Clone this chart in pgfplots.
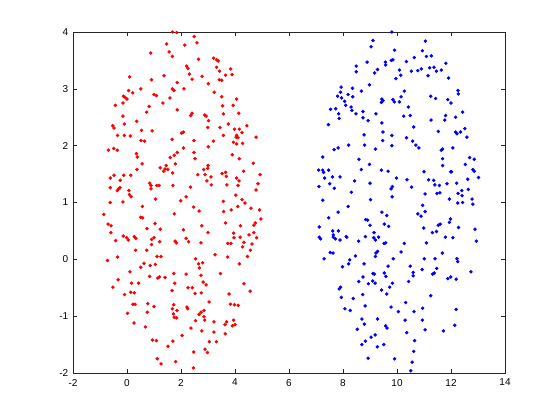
\documentclass[border=0pt]{standalone}
\usepackage{pgfplots}
\pgfplotsset{compat=1.18}
\usepackage{fontspec}
\setmainfont{Liberation Sans}
\definecolor{axgray}{rgb}{0.15,0.15,0.15}
\begin{document}
\begin{tikzpicture}
\begin{axis}[
  scale only axis, width=324pt, height=255.75pt,
  xmin=-2, xmax=14, ymin=-2, ymax=4,
  xtick={-2,0,...,14}, ytick={-2,-1,...,4},
  tick align=inside, xtick pos=both, ytick pos=both,
  major tick length=3.2pt,
  axis line style={axgray, line width=0.5pt},
  every tick/.style={axgray, line width=0.5pt},
  tick label style={font=\fontsize{7.5}{9}\selectfont, text=black},
  /pgf/number format/assume math mode=true,
  xticklabel style={yshift=-1pt},
  clip=false,
]
\addplot[only marks, mark=*, mark size=1.1pt, color=red] coordinates {
(1.68,4.00)(1.84,3.99)(1.47,3.79)(0.88,3.63)(1.56,3.65)(1.68,3.57)(0.10,3.21)(0.91,3.16)(1.37,3.23)(1.86,3.11)(0.51,3.00)(0.06,2.97)(0.21,2.93)(1.68,3.00)(1.74,2.97)(-0.13,2.87)(-0.07,2.85)(0.00,2.82)(1.00,2.90)(1.09,2.88)(1.59,2.84)(-0.43,2.71)(-0.15,2.75)(1.33,2.75)(0.82,2.69)(0.73,2.59)(1.86,2.63)(-0.15,2.52)(-0.53,2.35)(-0.48,2.31)(-0.10,2.38)(0.36,2.43)(0.54,2.27)(0.93,2.26)(-0.35,2.18)(-0.10,2.18)(0.12,2.17)(0.52,2.09)(0.65,2.08)(1.67,2.11)
(2.49,3.92)(2.14,3.77)(2.59,3.81)(2.65,3.52)(3.21,3.54)(3.32,3.51)(3.38,3.49)(2.21,3.40)(2.26,3.36)(3.32,3.38)(3.43,3.31)(3.84,3.35)(2.31,3.26)(2.78,3.22)(3.65,3.24)(3.89,3.25)(2.41,3.17)(3.42,3.16)(3.51,3.15)(3.01,3.09)(2.11,3.00)(3.23,2.94)(3.51,2.86)(4.06,2.82)(3.93,2.71)(3.54,2.70)(4.14,2.57)(2.41,2.57)(2.36,2.53)(2.88,2.54)(2.93,2.52)(3.02,2.44)(3.57,2.56)(3.75,2.38)(2.99,2.32)(3.44,2.32)(4.44,2.35)(3.98,2.29)(4.16,2.29)(2.02,2.22)(2.09,2.24)(4.26,2.23)(2.48,2.09)(3.57,2.18)(4.06,2.18)(4.11,2.14)(4.04,2.15)(4.78,2.15)(3.94,2.06)(3.20,2.08)(4.06,2.03)(4.28,2.04)
(-0.69,1.92)(-0.49,1.95)(-0.36,1.92)(0.35,1.86)(0.38,1.80)(1.86,1.88)(1.75,1.83)(1.60,1.79)(0.56,1.68)(1.79,1.68)(0.37,1.58)(1.23,1.61)(1.45,1.65)(1.36,1.55)(1.51,1.58)(1.41,1.59)(1.69,1.52)(-0.62,1.43)(-0.48,1.48)(-0.12,1.48)(0.14,1.48)(-0.25,1.39)(0.84,1.34)(0.89,1.30)(1.10,1.30)(1.19,1.30)(1.70,1.30)(-0.62,1.26)(-0.36,1.21)(-0.31,1.24)(-0.26,1.26)(0.07,1.21)(0.09,1.14)(0.15,1.10)(0.89,1.24)(-0.62,1.00)(-0.15,1.01)(1.06,1.06)(0.57,0.93)(-0.86,0.79)(0.51,0.74)(0.58,0.73)(1.75,0.80)(-0.70,0.62)(-0.59,0.59)(1.04,0.63)(-0.60,0.47)(0.74,0.54)(1.23,0.53)(-0.14,0.41)(-0.01,0.38)(0.05,0.34)(0.27,0.40)(0.33,0.37)(1.00,0.38)(0.91,0.35)(-0.42,0.33)(1.21,0.31)(0.91,0.26)(1.78,0.32)(1.83,0.29)(0.32,0.16)(0.73,0.16)(1.11,0.05)(1.26,0.05)(-0.72,-0.02)(-0.35,0.04)
(2.09,1.96)(3.01,1.98)(2.48,1.88)(2.52,1.77)(3.90,1.84)(4.16,1.77)(4.68,1.69)(3.00,1.65)(2.99,1.60)(2.84,1.58)(2.62,1.49)(2.89,1.49)(3.11,1.45)(3.52,1.51)(3.65,1.53)(3.68,1.46)(4.06,1.43)(4.15,1.38)(4.32,1.55)(4.93,1.49)(2.96,1.38)(3.12,1.31)(3.70,1.31)(4.11,1.30)(4.85,1.33)(4.78,1.22)(2.35,1.27)(2.19,1.10)(1.99,1.03)(3.57,1.02)(4.03,1.13)(4.26,1.05)(4.37,0.99)(4.10,0.93)(3.86,0.87)(3.58,0.84)(4.59,0.90)(4.91,0.87)(2.47,0.92)(2.67,0.85)(4.96,0.71)(3.65,0.64)(4.20,0.59)(4.75,0.64)(4.70,0.60)(2.77,0.59)(3.00,0.47)(2.09,0.52)(3.95,0.46)(3.96,0.38)(4.19,0.39)(4.52,0.43)(4.70,0.47)(4.80,0.38)(2.19,0.37)(2.28,0.31)(2.74,0.29)(3.73,0.28)(3.85,0.28)(4.33,0.30)(4.63,0.27)(4.28,0.22)(4.57,0.16)(3.26,0.08)(3.73,0.04)(4.46,0.05)(2.54,0.01)
(0.63,-0.07)(0.51,-0.14)(0.86,-0.11)(1.05,-0.09)(0.11,-0.22)(0.84,-0.30)(1.14,-0.33)(1.20,-0.31)(1.41,-0.32)(1.73,-0.25)(-0.33,-0.36)(0.17,-0.42)(0.43,-0.42)(1.77,-0.42)(-0.52,-0.49)(-0.09,-0.62)(0.14,-0.58)(0.27,-0.59)(1.67,-0.55)(0.30,-0.79)(0.22,-0.79)(0.77,-0.78)(1.00,-0.83)(1.73,-0.80)(1.68,-0.87)(1.85,-0.90)(0.02,-0.95)(0.75,-0.93)(1.72,-0.96)(1.75,-1.02)(1.84,-1.03)(0.26,-1.12)(0.68,-1.19)(0.94,-1.42)(1.09,-1.43)(1.70,-1.44)(1.52,-1.53)(1.12,-1.75)(1.26,-1.84)(1.80,-1.80)
(2.19,-0.26)(2.65,-0.08)(2.80,-0.06)(2.68,-0.15)(2.74,-0.28)(3.46,-0.25)(4.16,-0.08)(2.82,-0.40)(2.93,-0.45)(4.33,-0.43)(2.26,-0.50)(2.42,-0.50)(2.52,-0.60)(2.75,-0.59)(4.56,-0.56)(3.78,-0.61)(3.04,-0.75)(3.83,-0.79)(3.98,-0.80)(4.12,-0.81)(2.22,-0.84)(2.25,-0.87)(2.85,-0.90)(2.74,-0.93)(2.67,-0.97)(2.85,-1.01)(2.88,-1.07)(2.54,-1.08)(3.22,-1.10)(3.69,-1.10)(3.63,-1.15)(3.95,-1.07)(4.00,-1.15)(3.90,-1.17)(2.37,-1.21)(2.77,-1.26)(3.22,-1.28)(3.64,-1.31)(2.04,-1.34)(3.05,-1.45)(3.31,-1.45)(2.89,-1.58)(2.98,-1.64)(2.47,-1.63)(2.46,-1.91)
};
\addplot[only marks, mark=*, mark size=1.1pt, color=blue] coordinates {
(9.81,4.00)(9.11,3.85)(9.04,3.74)(9.91,3.68)(8.89,3.47)(9.57,3.47)(9.58,3.42)(9.79,3.50)(9.85,3.51)(8.49,3.40)(8.49,3.30)(9.28,3.34)(9.17,3.28)(9.96,3.18)(8.98,3.07)(7.93,3.03)(8.35,3.01)(7.91,2.94)(8.68,2.96)(7.80,2.87)(7.95,2.84)(8.19,2.90)(8.36,2.86)(8.06,2.78)(8.10,2.71)(8.30,2.68)(8.33,2.62)(7.54,2.64)(7.73,2.65)(7.84,2.56)(8.48,2.56)(8.74,2.60)(9.44,2.82)(9.48,2.79)(9.42,2.76)(9.85,2.81)(9.90,2.77)(8.74,2.49)(8.93,2.44)(9.22,2.56)(7.86,2.48)(7.46,2.37)(9.44,2.40)(9.48,2.24)(8.78,2.19)(9.81,2.18)(9.47,2.09)(8.21,2.01)(8.80,2.01)(9.81,2.00)
(11.05,3.84)(10.94,3.67)(11.09,3.57)(11.27,3.58)(10.64,3.55)(10.35,3.48)(11.81,3.45)(11.21,3.37)(11.37,3.38)(10.90,3.35)(10.77,3.32)(10.53,3.31)(11.46,3.31)(11.64,3.33)(10.09,3.33)(10.14,3.24)(11.15,3.23)(11.91,3.19)(10.27,2.96)(10.15,2.86)(10.09,2.77)(11.25,2.87)(11.43,2.83)(11.88,2.81)(12.00,2.75)(12.26,2.97)(12.27,2.91)(10.42,2.68)(12.43,2.59)(10.25,2.52)(10.49,2.53)(11.26,2.45)(11.80,2.53)(11.77,2.45)(12.17,2.50)(10.62,2.33)(11.53,2.25)(12.17,2.24)(12.22,2.21)(12.35,2.24)(12.51,2.30)(10.35,2.14)(12.59,2.15)(10.58,2.08)(10.70,2.01)
(7.67,1.93)(7.82,1.96)(9.20,1.94)(7.25,1.80)(8.59,1.76)(8.98,1.67)(7.10,1.57)(7.25,1.57)(7.28,1.53)(7.47,1.57)(8.68,1.58)(9.42,1.57)(9.67,1.55)(9.98,1.43)(7.32,1.43)(7.61,1.45)(7.89,1.45)(7.51,1.33)(7.68,1.25)(7.11,1.28)(8.43,1.38)(9.00,1.34)(9.83,1.28)(9.78,1.24)(8.31,1.18)(9.82,1.10)(7.25,1.04)(8.19,0.93)(9.02,1.05)(9.44,0.83)(9.62,0.77)(7.47,0.73)(7.82,0.83)(8.84,0.70)(8.91,0.69)(9.00,0.60)(9.53,0.62)(9.69,0.58)(7.12,0.57)(7.62,0.50)(7.83,0.50)(7.64,0.43)(7.64,0.39)(7.72,0.36)(7.89,0.34)(8.12,0.40)(8.14,0.39)(8.83,0.40)(9.15,0.47)(9.14,0.38)(9.20,0.34)(9.32,0.39)(9.52,0.28)(9.58,0.29)(7.12,0.39)(7.17,0.36)(8.58,0.32)(7.53,0.12)(7.63,0.11)(8.46,0.06)(9.22,0.11)(9.28,0.14)(9.20,0.05)(7.30,0.01)(8.25,-0.01)(9.86,0.01)
(10.81,1.96)(11.64,1.92)(11.69,1.94)(12.07,1.96)(12.69,1.79)(12.86,1.76)(11.69,1.77)(11.69,1.65)(12.53,1.67)(12.81,1.58)(12.86,1.55)(11.99,1.54)(12.02,1.54)(11.00,1.54)(13.02,1.44)(10.37,1.40)(11.17,1.40)(11.36,1.39)(11.40,1.31)(11.57,1.30)(11.85,1.33)(12.21,1.34)(12.62,1.41)(10.54,1.27)(12.40,1.21)(12.64,1.23)(12.26,1.16)(12.41,1.12)(11.04,1.15)(11.48,1.16)(11.59,1.17)(11.94,1.06)(12.78,1.06)(12.81,0.97)(12.25,0.99)(12.43,1.00)(10.95,0.95)(11.04,0.84)(10.77,0.80)(10.89,0.76)(11.98,0.71)(11.94,0.65)(12.28,0.56)(11.53,0.60)(11.60,0.62)(11.31,0.47)(11.46,0.49)(10.99,0.55)(12.89,0.53)(11.79,0.39)(12.07,0.38)(12.94,0.32)(10.27,0.28)(11.09,0.29)(10.15,0.13)(11.68,0.11)(11.01,0.01)(11.41,0.01)(12.22,0.01)
(7.98,-0.13)(8.21,-0.08)(8.78,-0.08)(9.67,-0.12)(9.53,-0.24)(9.59,-0.30)(8.74,-0.31)(9.11,-0.25)(9.16,-0.26)(8.58,-0.39)(9.10,-0.38)(8.94,-0.43)(9.19,-0.42)(9.83,-0.42)(9.73,-0.49)(7.86,-0.52)(7.91,-0.49)(9.43,-0.54)(9.62,-0.61)(8.73,-0.62)(7.94,-0.67)(8.38,-0.69)(8.82,-0.82)(8.07,-0.87)(8.27,-0.90)(9.78,-0.84)(10.05,-0.92)(8.70,-1.05)(9.28,-1.05)(8.79,-1.14)(9.58,-1.17)(9.63,-1.21)(8.53,-1.23)(9.19,-1.33)(9.04,-1.37)(8.83,-1.44)(8.70,-1.50)(9.27,-1.54)(9.51,-1.50)(8.93,-1.74)(9.91,-1.75)
(12.25,-0.04)(10.49,-0.12)(10.93,-0.18)(10.60,-0.23)(10.60,-0.29)(11.32,-0.26)(11.38,-0.24)(11.47,-0.16)(10.43,-0.39)(11.88,-0.34)(11.99,-0.31)(12.19,-0.35)(12.74,-0.22)(11.25,-0.64)(10.32,-0.76)(10.63,-0.92)(10.95,-0.86)(12.19,-0.88)(10.30,-1.07)(10.94,-1.07)(10.36,-1.29)(11.04,-1.24)(11.72,-1.26)(12.14,-1.16)(10.65,-1.43)(10.62,-1.62)(10.56,-1.81)(10.51,-1.96)
};
\end{axis}
\path ([shift={(-54.75pt,-35.25pt)}]current axis.south west) rectangle ([shift={(41.25pt,24pt)}]current axis.north east);
\end{tikzpicture}
\end{document}
